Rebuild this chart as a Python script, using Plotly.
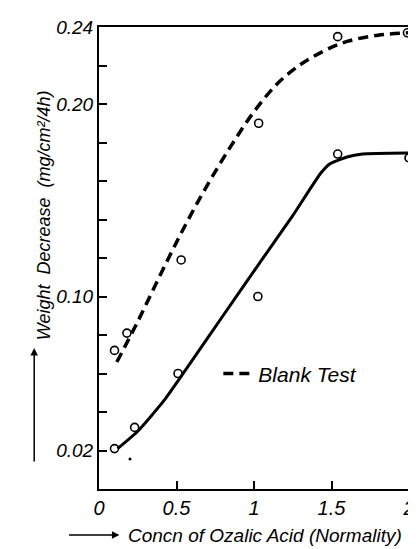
import plotly.graph_objects as go

# ---- data ----
blank_pts_x = [0.10, 0.18, 0.53, 1.03, 1.54, 1.99]
blank_pts_y = [0.072, 0.081, 0.119, 0.190, 0.235, 0.237]

oxalic_pts_x = [0.10, 0.23, 0.51, 1.025, 1.54, 2.00]
oxalic_pts_y = [0.021, 0.032, 0.060, 0.100, 0.174, 0.172]

blank_curve_x = [0.115, 0.25, 0.40, 0.55, 0.70, 0.85, 1.00, 1.15, 1.30, 1.45, 1.60, 1.80, 2.00]
blank_curve_y = [0.066, 0.087, 0.112, 0.136, 0.158, 0.178, 0.196, 0.2105, 0.2205, 0.2275, 0.2325, 0.2357, 0.237]

oxalic_curve_x = [0.12, 0.25, 0.42, 0.56, 0.80, 1.05, 1.25, 1.43, 1.49, 1.60, 1.70, 2.00]
oxalic_curve_y = [0.021, 0.030, 0.046, 0.062, 0.090, 0.119, 0.142, 0.164, 0.169, 0.1725, 0.174, 0.1745]

stray_x = [0.20]
stray_y = [0.0156]

x_tickvals = [0, 0.5, 1, 1.5, 2]
x_ticktext = ["0", "0.5", "1", "1.5", "2"]
y_tickvals = [0.02, 0.04, 0.06, 0.08, 0.10, 0.12, 0.14, 0.16, 0.18, 0.20, 0.22, 0.24]
y_ticktext = ["0.02", "", "", "", "0.10", "", "", "", "", "0.20", "", "0.24"]

FONT = "Liberation Sans, Arial, sans-serif"

fig = go.Figure()
fig.add_trace(go.Scatter(
    x=blank_curve_x, y=blank_curve_y, mode="lines", name="Blank Test",
    line=dict(color="black", width=3.5, dash="10px,6px", shape="spline", smoothing=1.0),
    showlegend=True))
fig.add_trace(go.Scatter(
    x=oxalic_curve_x, y=oxalic_curve_y, mode="lines", name="Oxalic acid",
    line=dict(color="black", width=3, shape="spline", smoothing=0.5),
    showlegend=False))
fig.add_trace(go.Scatter(
    x=blank_pts_x, y=blank_pts_y, mode="markers", showlegend=False, cliponaxis=False,
    marker=dict(symbol="circle-open", size=8, color="black", line=dict(width=1.6))))
fig.add_trace(go.Scatter(
    x=oxalic_pts_x, y=oxalic_pts_y, mode="markers", showlegend=False, cliponaxis=False,
    marker=dict(symbol="circle-open", size=8, color="black", line=dict(width=1.6))))
fig.add_trace(go.Scatter(
    x=stray_x, y=stray_y, mode="markers", showlegend=False,
    marker=dict(symbol="circle", size=3, color="black")))

axis_common = dict(showgrid=False, zeroline=False, showline=True, linecolor="black",
                   linewidth=2, mirror=True, ticks="inside", ticklen=8, tickwidth=1.5,
                   tickcolor="black")

fig.update_xaxes(range=[0, 2], tickvals=x_tickvals, ticktext=x_ticktext,
                 tickfont=dict(family=FONT, size=20, color="black", style="italic"),
                 **axis_common)
fig.update_yaxes(range=[0, 0.24], tickvals=y_tickvals, ticktext=y_ticktext,
                 tickfont=dict(family=FONT, size=19, color="black", style="italic"),
                 **axis_common)

fig.update_layout(
    width=416, height=549,
    margin=dict(l=91, r=9, t=19, b=68),
    paper_bgcolor="white", plot_bgcolor="white",
    showlegend=True,
    legend=dict(x=0.385, y=0.249, xanchor="left", yanchor="middle",
                bgcolor="rgba(0,0,0,0)",
                font=dict(family=FONT, size=21, color="black", style="italic")),
    annotations=[
        dict(text="Weight  Decrease  (mg/cm²/4h)", xref="paper", yref="paper",
             x=-0.177, y=0.593, xanchor="center", yanchor="middle",
             showarrow=False, textangle=-90,
             font=dict(family=FONT, size=18, color="black", style="italic")),
        dict(text="", xref="paper", yref="paper", x=-0.209, y=0.305,
             showarrow=True, ax=0, ay=115, arrowhead=2, arrowwidth=1.5, arrowsize=1,
             arrowcolor="black"),
        dict(text="Concn of Ozalic Acid (Normality)", xref="paper", yref="paper",
             x=0.535, y=-0.0996, showarrow=False, xanchor="center", yanchor="middle",
             font=dict(family=FONT, size=19, color="black", style="italic")),
        dict(text="", xref="paper", yref="paper", x=0.066, y=-0.0996,
             showarrow=True, ax=-52, ay=0, arrowhead=2, arrowwidth=1.5, arrowsize=1,
             arrowcolor="black"),
    ],
)

fig.write_html("out.html")
